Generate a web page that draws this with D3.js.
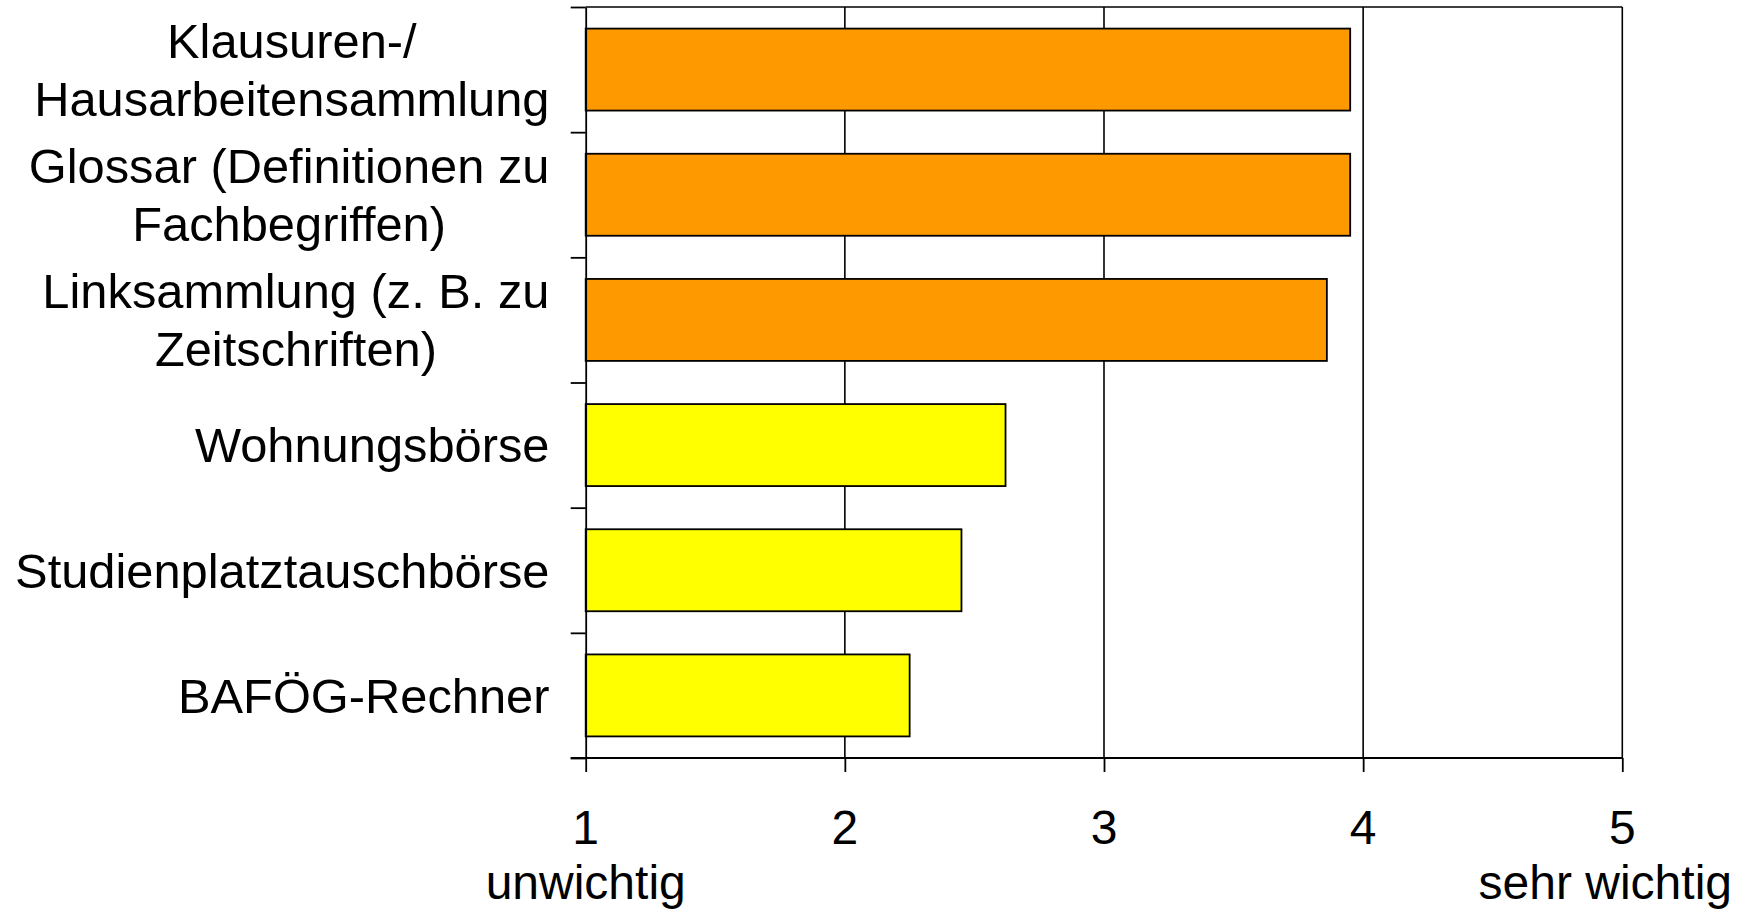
<!DOCTYPE html>
<html>
<head>
<meta charset="utf-8">
<script src="https://cdn.jsdelivr.net/npm/d3@7"></script>
<style>
  html, body { margin: 0; padding: 0; background: #fff; }
  svg { display: block; }
  text { font-family: "Liberation Sans", Arial, sans-serif; fill: #000; }
</style>
</head>
<body>
<svg id="chart" width="1746" height="910"></svg>
<script>
// ---- data ----
const categories = [
  ["Klausuren-/", "Hausarbeitensammlung"],
  ["Glossar (Definitionen zu", "Fachbegriffen)"],
  ["Linksammlung (z. B. zu", "Zeitschriften)"],
  ["Wohnungsbörse"],
  ["Studienplatztauschbörse"],
  ["BAFÖG-Rechner"]
];
const values = [3.95, 3.95, 3.86, 2.62, 2.45, 2.25];
const groups = ["orange", "orange", "orange", "yellow", "yellow", "yellow"];
const xTickValues = [1, 2, 3, 4, 5];
const xTickLabels = [["1", "unwichtig"], ["2"], ["3"], ["4"], ["5", "sehr wichtig"]];

// ---- layout ----
const svg = d3.select("#chart");
const plotLeft = 585.7, plotRight = 1622.3, plotTop = 7, plotBottom = 758;
const fontSize = 48.8;
const xFontSize = 48;
const colors = { orange: "#FF9900", yellow: "#FFFF00" };

const x = d3.scaleLinear().domain([1, 5]).range([plotLeft, plotRight]);
const y = d3.scaleBand().domain(d3.range(categories.length)).range([plotTop, plotBottom])
  .paddingInner(0.345).paddingOuter(0.1725);
const yEdge = d3.scaleLinear().domain([0, categories.length]).range([plotTop, plotBottom]);

// gridlines (2..5)
svg.append("g").selectAll("line").data(xTickValues.slice(1)).join("line")
  .attr("x1", d => x(d)).attr("x2", d => x(d))
  .attr("y1", plotTop).attr("y2", plotBottom)
  .attr("stroke", "#000").attr("stroke-width", 1.6);

// top border
svg.append("line").attr("x1", plotLeft).attr("x2", plotRight).attr("y1", plotTop).attr("y2", plotTop)
  .attr("stroke", "#000").attr("stroke-width", 1.6);

// bars
svg.append("g").selectAll("rect").data(values).join("rect")
  .attr("x", x(1))
  .attr("y", (d, i) => y(i))
  .attr("width", d => x(d) - x(1))
  .attr("height", y.bandwidth())
  .attr("fill", (d, i) => colors[groups[i]])
  .attr("stroke", "#000").attr("stroke-width", 1.8);

// y axis with boundary ticks
const yAxis = d3.axisLeft(yEdge).tickValues(d3.range(categories.length + 1))
  .tickSize(15).tickSizeOuter(0).tickFormat("");
const gy = svg.append("g").attr("transform", `translate(${plotLeft},0)`).call(yAxis);
gy.selectAll("line, path").attr("stroke", "#000").attr("stroke-width", 1.8);

// x axis
const xAxis = d3.axisBottom(x).tickValues(xTickValues).tickSize(14).tickSizeOuter(0).tickFormat("");
const gx = svg.append("g").attr("transform", `translate(0,${plotBottom})`).call(xAxis);
gx.selectAll("line, path").attr("stroke", "#000").attr("stroke-width", 1.8);
gx.select("path").attr("d", `M${plotLeft - 15},0H${plotRight}`);

// y labels
const labelRight = 549.5;
const lineGap = 57.7;
const capHalf = 17.4;
categories.forEach((lines, i) => {
  const cy = y(i) + y.bandwidth() / 2;
  const g = svg.append("g");
  const texts = lines.map((ln, j) => g.append("text")
    .attr("font-size", fontSize)
    .attr("y", cy + capHalf + (j - (lines.length - 1) / 2) * lineGap)
    .text(ln));
  const widths = texts.map(t => t.node().getComputedTextLength());
  const maxW = d3.max(widths);
  texts.forEach(t => t.attr("text-anchor", "middle").attr("x", labelRight - maxW / 2));
});

// x labels
xTickValues.forEach((v, i) => {
  const lines = xTickLabels[i];
  svg.append("text").attr("font-size", xFontSize).attr("text-anchor", "middle")
    .attr("x", x(v)).attr("y", 843.5).text(lines[0]);
  if (lines[1]) {
    const t = svg.append("text").attr("font-size", xFontSize).attr("text-anchor", "middle")
      .attr("x", x(v)).attr("y", 898.5).text(lines[1]);
    const w = t.node().getComputedTextLength();
    if (x(v) + w / 2 > 1733) t.attr("text-anchor", "end").attr("x", 1732);
  }
});
</script>
</body>
</html>
